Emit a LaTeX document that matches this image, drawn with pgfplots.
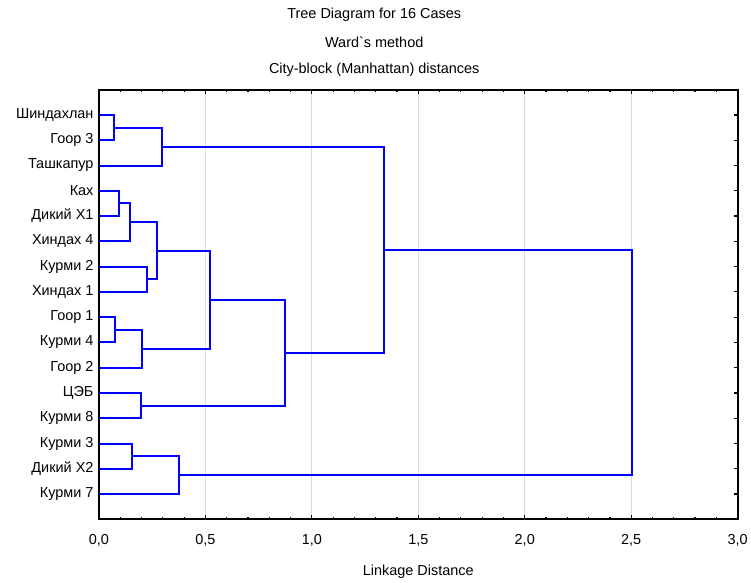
\documentclass[border=0pt]{standalone}
\usepackage{fontspec}
\setmainfont{Liberation Sans}
\usepackage{pgfplots}
\pgfplotsset{compat=1.18}

\begin{document}
\begin{tikzpicture}
\begin{axis}[
    scale only axis,
    width=640.7pt, height=431pt,
    xmin=0, xmax=3, ymin=0, ymax=17,
    y dir=reverse,
    clip=false,
    axis line style={black, line width=1.8pt},
    xtick={0,0.5,1,1.5,2,2.5,3},
    minor x tick num=4,
    ytick={1,...,16},
    yticklabels={Шиндахлан, Гоор 3, Ташкапур, Ках, Дикий Х1, Хиндах 4,
      Курми 2, Хиндах 1, Гоор 1, Курми 4, Гоор 2, ЦЭБ, Курми 8,
      Курми 3, Дикий Х2, Курми 7},
    tick align=inside,
    major tick length=4pt, minor tick length=2.5pt,
    tick style={black, line width=1.2pt},
    xmajorgrids,
    major x grid style={black!15, line width=1pt},
    ticklabel style={font=\fontsize{14.5}{16}\selectfont},
    yticklabel style={xshift=-2pt},
    xticklabel style={yshift=-12pt},
    /pgf/number format/assume math mode=true,
    /pgf/number format/fixed,
    /pgf/number format/fixed zerofill,
    /pgf/number format/precision=1,
    /pgf/number format/use comma,
    dendro/.style={color=blue, line width=2pt, mark=none, line join=miter},
  ]
  % one U-shaped link for each merge: (child height, y) -> (merge height) -> (child height, y)
  \addplot[dendro] coordinates {(0,1) (0.070,1) (0.070,2) (0,2)};
  \addplot[dendro] coordinates {(0.070,1.5) (0.297,1.5) (0.297,3) (0,3)};
  \addplot[dendro] coordinates {(0,4) (0.092,4) (0.092,5) (0,5)};
  \addplot[dendro] coordinates {(0.092,4.5) (0.148,4.5) (0.148,6) (0,6)};
  \addplot[dendro] coordinates {(0,7) (0.225,7) (0.225,8) (0,8)};
  \addplot[dendro] coordinates {(0.148,5.25) (0.273,5.25) (0.273,7.5) (0.225,7.5)};
  \addplot[dendro] coordinates {(0,9) (0.075,9) (0.075,10) (0,10)};
  \addplot[dendro] coordinates {(0.075,9.5) (0.203,9.5) (0.203,11) (0,11)};
  \addplot[dendro] coordinates {(0.273,6.375) (0.523,6.375) (0.523,10.25) (0.203,10.25)};
  \addplot[dendro] coordinates {(0,12) (0.199,12) (0.199,13) (0,13)};
  \addplot[dendro] coordinates {(0.523,8.3125) (0.874,8.3125) (0.874,12.5) (0.199,12.5)};
  \addplot[dendro] coordinates {(0.297,2.25) (1.339,2.25) (1.339,10.40625) (0.874,10.40625)};
  \addplot[dendro] coordinates {(0,14) (0.153,14) (0.153,15) (0,15)};
  \addplot[dendro] coordinates {(0.153,14.5) (0.378,14.5) (0.378,16) (0,16)};
  \addplot[dendro] coordinates {(1.339,6.328125) (2.505,6.328125) (2.505,15.25) (0.378,15.25)};

  \node[font=\fontsize{14.5}{16}\selectfont] at (axis description cs:0.431,1.174) {Tree Diagram for 16 Cases};
  \node[font=\fontsize{14.5}{16}\selectfont] at (axis description cs:0.431,1.110) {Ward\textasciigrave s method};
  \node[font=\fontsize{14.5}{16}\selectfont] at (axis description cs:0.431,1.046) {City-block (Manhattan) distances};
  \node[font=\fontsize{14.5}{16}\selectfont] at (axis description cs:0.5,-0.123) {Linkage Distance};
\end{axis}
\path (current axis.south west) ++(-99.3pt,-59pt) rectangle ++(751pt,580pt);
\end{tikzpicture}
\end{document}
